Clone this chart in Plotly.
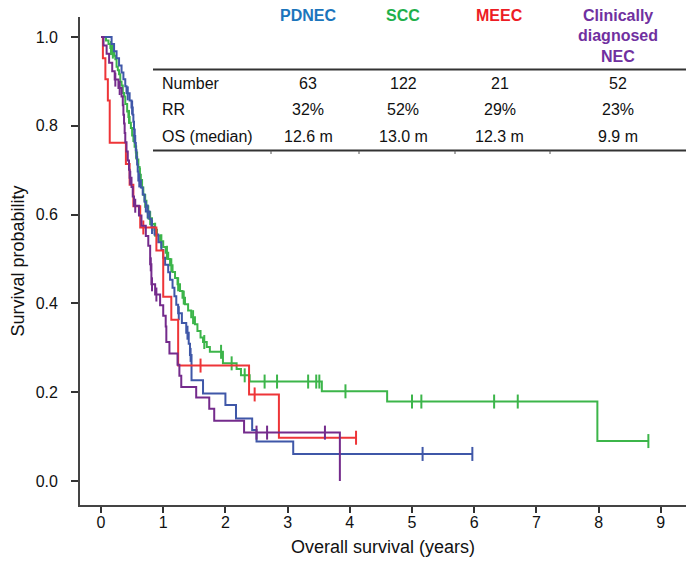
import plotly.graph_objects as go

# ---------------- data ----------------
groups = ["PDNEC", "SCC", "MEEC", "Clinically diagnosed NEC"]
row_labels = ["Number", "RR", "OS (median)"]
numbers = ["63", "122", "21", "52"]
rr = ["32%", "52%", "29%", "23%"]
os_median = ["12.6 m", "13.0 m", "12.3 m", "9.9 m"]

# PDNEC
pd_t = [0.17, 0.21, 0.25, 0.29, 0.33, 0.36, 0.39, 0.41, 0.46, 0.49, 0.51, 0.52, 0.53, 0.535,
        0.55, 0.56, 0.57, 0.58, 0.59, 0.60, 0.64, 0.67, 0.70, 0.72, 0.78, 0.81, 0.86, 0.92,
        0.97, 1.00, 1.03, 1.08, 1.11, 1.15, 1.18, 1.21, 1.24, 1.30, 1.37, 1.41, 1.43, 1.455,
        1.64, 2.00, 2.17, 2.43, 2.50, 3.09]
pd_s = [0.984, 0.968, 0.952, 0.936, 0.920, 0.905, 0.889, 0.873, 0.857, 0.841, 0.825, 0.809,
        0.793, 0.777, 0.761, 0.745, 0.729, 0.713, 0.697, 0.677, 0.661, 0.645, 0.629, 0.607,
        0.590, 0.572, 0.555, 0.538, 0.520, 0.503, 0.487, 0.470, 0.453, 0.435, 0.416, 0.397,
        0.378, 0.356, 0.334, 0.309, 0.284, 0.227, 0.197, 0.171, 0.141, 0.115, 0.089, 0.061]
pd_end = 5.97
pd_cens = [0.43, 0.50, 0.54, 0.615, 0.75, 0.82, 1.25, 1.39, 1.44, 5.17, 5.97]

# SCC
scc_t = [0.08, 0.12, 0.15, 0.18, 0.21, 0.23, 0.25, 0.27, 0.29, 0.31, 0.33, 0.35, 0.37, 0.39,
         0.42, 0.44, 0.46, 0.48, 0.50, 0.52, 0.54, 0.56, 0.58, 0.60, 0.62, 0.64, 0.66, 0.68,
         0.70, 0.73, 0.75, 0.78, 0.82, 0.86, 0.90, 0.95, 1.00, 1.04, 1.08, 1.11, 1.15, 1.19,
         1.23, 1.27, 1.31, 1.35, 1.40, 1.45, 1.51, 1.55, 1.60, 1.64, 1.70, 1.75, 1.96, 2.18,
         2.25, 2.39, 3.55, 4.60, 7.98]
scc_s = [0.992, 0.984, 0.975, 0.967, 0.958, 0.950, 0.933, 0.925, 0.916, 0.899, 0.891, 0.874,
         0.866, 0.849, 0.832, 0.820, 0.807, 0.795, 0.778, 0.766, 0.753, 0.740, 0.724, 0.707,
         0.690, 0.678, 0.661, 0.644, 0.631, 0.618, 0.605, 0.592, 0.579, 0.566, 0.553, 0.540,
         0.527, 0.514, 0.500, 0.486, 0.471, 0.457, 0.443, 0.428, 0.413, 0.398, 0.384, 0.369,
         0.353, 0.338, 0.323, 0.313, 0.302, 0.291, 0.265, 0.252, 0.238, 0.224, 0.202, 0.179,
         0.090]
scc_end = 8.8
scc_cens = [0.16, 0.19, 0.45, 0.565, 0.625, 0.71, 0.76, 0.79, 0.87, 0.97, 1.06, 1.13, 1.24,
            1.33, 1.48, 1.66, 1.93, 2.10, 2.31, 2.63, 2.83, 3.33, 3.46, 3.51, 3.93, 5.00,
            5.15, 6.32, 6.70, 8.80]

# MEEC
me_t = [0.03, 0.07, 0.11, 0.14, 0.40, 0.46, 0.52, 0.63, 0.89, 1.00, 1.13, 1.24, 2.38, 2.86]
me_s = [0.952, 0.905, 0.857, 0.762, 0.714, 0.667, 0.619, 0.571, 0.519, 0.415, 0.363, 0.260,
        0.195, 0.0975]
me_end = 4.1
me_cens = [0.68, 1.60, 2.47, 4.10]

# Clinically diagnosed NEC
ne_t = [0.04, 0.09, 0.13, 0.18, 0.22, 0.28, 0.33, 0.35, 0.36, 0.37, 0.38, 0.39, 0.41, 0.43,
        0.45, 0.46, 0.49, 0.51, 0.53, 0.61, 0.65, 0.72, 0.76, 0.79, 0.81, 0.87, 0.95, 1.00,
        1.04, 1.05, 1.10, 1.23, 1.26, 1.29, 1.53, 1.74, 1.82, 2.30, 3.84]
ne_s = [0.981, 0.962, 0.942, 0.923, 0.904, 0.885, 0.866, 0.846, 0.825, 0.805, 0.784, 0.763,
        0.742, 0.722, 0.701, 0.683, 0.662, 0.641, 0.620, 0.598, 0.575, 0.552, 0.530, 0.488,
        0.443, 0.420, 0.396, 0.372, 0.348, 0.313, 0.287, 0.262, 0.237, 0.212, 0.188, 0.163,
        0.136, 0.109, 0.0]
ne_end = 3.84
ne_cens = [0.23, 0.30, 0.47, 0.55, 0.80, 0.82, 0.89, 2.50, 2.67, 3.60]

x_ticks = [0, 1, 2, 3, 4, 5, 6, 7, 8, 9]
y_ticks = [0.0, 0.2, 0.4, 0.6, 0.8, 1.0]

# ---------------- styling ----------------
FONT = "Liberation Sans, Arial, sans-serif"
line_cols = {"PDNEC": "#3f57a8", "SCC": "#3cb54a", "MEEC": "#ee3538",
             "Clinically diagnosed NEC": "#742b8c"}
head_cols = {"PDNEC": "#1b75bc", "SCC": "#1fb04b", "MEEC": "#ed1c24",
             "Clinically diagnosed NEC": "#7030a0"}

curves = {
    "SCC": (scc_t, scc_s, scc_end, scc_cens),
    "PDNEC": (pd_t, pd_s, pd_end, pd_cens),
    "MEEC": (me_t, me_s, me_end, me_cens),
    "Clinically diagnosed NEC": (ne_t, ne_s, ne_end, ne_cens),
}


def surv_at(ts, ss, t):
    v = 1.0
    for ti, si in zip(ts, ss):
        if ti <= t:
            v = si
    return v


fig = go.Figure()
for name, (ts, ss, end, cens) in curves.items():
    xs = [0] + list(ts)
    ys = [1.0] + list(ss)
    if end > xs[-1]:
        xs.append(end)
        ys.append(ys[-1])
    col = line_cols[name]
    fig.add_trace(go.Scatter(x=xs, y=ys, mode="lines", line=dict(color=col, width=2, shape="hv"),
                             showlegend=False, hoverinfo="skip"))
    fig.add_trace(go.Scatter(x=cens, y=[surv_at(ts, ss, c) for c in cens], mode="markers",
                             marker=dict(symbol="line-ns", size=10, line=dict(color=col, width=2)),
                             showlegend=False, hoverinfo="skip"))

# plot area in pixels
L, R, T, B = 80, 686, 17, 505
W, H = 686, 567


def px(x):
    return (x - L) / (R - L)


def py(y):
    return (B - y) / (B - T)


annots = []
shapes = []
col_x = [308, 403, 500, 618]
row_y = [83.5, 109.5, 136.5]

# header
for i, g in enumerate(groups[:3]):
    annots.append(dict(x=px(col_x[i]), y=py(15), text="<b>%s</b>" % g, font=dict(size=16, color=head_cols[g], family=FONT)))
for j, part in enumerate(["Clinically", "diagnosed", "NEC"]):
    annots.append(dict(x=px(col_x[3]), y=py(15 + 21 * j), text="<b>%s</b>" % part,
                       font=dict(size=16, color=head_cols[groups[3]], family=FONT)))

rows = [numbers, rr, os_median]
for r, (lab, vals) in enumerate(zip(row_labels, rows)):
    annots.append(dict(x=px(160), y=py(row_y[r]), text=lab, xanchor="left",
                       font=dict(size=16, color="#111", family=FONT)))
    for i, v in enumerate(vals):
        annots.append(dict(x=px(col_x[i]), y=py(row_y[r]), text=v,
                           font=dict(size=16, color="#111", family=FONT)))

for a in annots:
    a.update(xref="paper", yref="paper", showarrow=False, yanchor="middle")
    a.setdefault("xanchor", "center")

for yy in [69.5, 150.5]:
    shapes.append(dict(type="line", xref="paper", yref="paper", x0=px(153), x1=px(686),
                       y0=py(yy), y1=py(yy), line=dict(color="#333", width=1.8)))
for xx in [271, 359, 455, 550]:
    shapes.append(dict(type="line", xref="paper", yref="paper", x0=px(xx), x1=px(xx),
                       y0=py(150.5), y1=py(154), line=dict(color="#555", width=1)))

fig.update_layout(
    width=W, height=H,
    margin=dict(l=L, r=W - R, t=T, b=H - B),
    paper_bgcolor="white", plot_bgcolor="white",
    font=dict(family=FONT, size=16, color="#111"),
    annotations=annots, shapes=shapes,
    xaxis=dict(range=[-0.338, 9.405], tickvals=x_ticks, ticks="outside", ticklen=6,
               tickwidth=1.5, tickcolor="#333", showline=True, linecolor="#444", linewidth=1.8,
               showgrid=False, zeroline=False, tickfont=dict(size=16), ticklabelstandoff=-4,
               title=dict(text="Overall survival (years)", font=dict(size=18), standoff=10)),
    yaxis=dict(range=[-0.054, 1.045], tickvals=y_ticks, tickformat=".1f", ticks="outside",
               ticklen=7, tickwidth=1.5, tickcolor="#333", showline=True, linecolor="#444",
               linewidth=1.8, showgrid=False, zeroline=False, tickfont=dict(size=16),
               ticklabelstandoff=10,
               title=dict(text="Survival probability", font=dict(size=18), standoff=6)),
)

fig.write_html("out.html", config={"displayModeBar": False},
               post_script="document.body.style.margin='0';document.body.style.overflow='hidden';")
